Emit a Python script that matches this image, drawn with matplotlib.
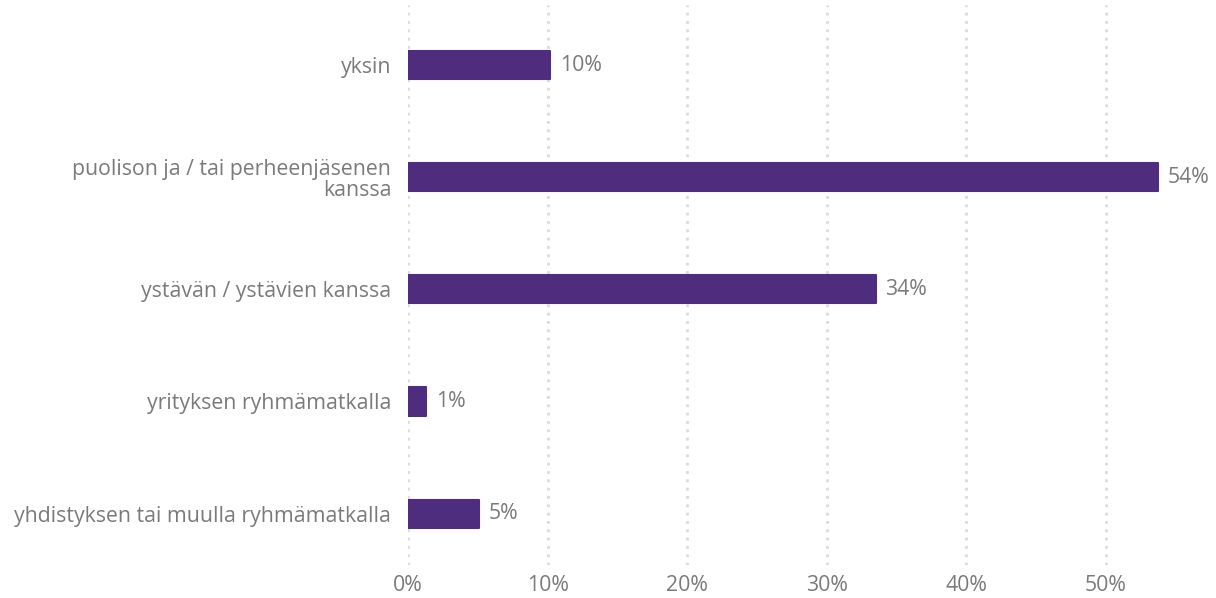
import matplotlib
matplotlib.use("Agg")
import matplotlib.pyplot as plt

plt.rcParams["font.family"] = ["Open Sans", "DejaVu Sans"]

categories = ["yksin", "puolison ja / tai perheenjäsenen\nkanssa", "ystävän / ystävien kanssa",
              "yrityksen ryhmämatkalla", "yhdistyksen tai muulla ryhmämatkalla"]
values = [10.2, 53.7, 33.5, 1.3, 5.1]
value_labels = ["10%", "54%", "34%", "1%", "5%"]
xticks = [0, 10, 20, 30, 40, 50]
xtick_labels = ["0%", "10%", "20%", "30%", "40%", "50%"]

bar_color = "#4e2d7f"
text_color = "#7a7a7a"
fs = 15.3

fig = plt.figure(figsize=(12.16, 5.98), dpi=100)
ax = fig.add_axes([0.3355, 0.055, 0.643, 0.937])

ypos = list(range(len(categories)))
ax.barh(ypos, values, height=0.25, color=bar_color, edgecolor=bar_color,
        linewidth=1.5, joinstyle="round", zorder=3)
for y, v, lab in zip(ypos, values, value_labels):
    ax.annotate(lab, (v, y), xytext=(7, 0), textcoords="offset points",
                va="center", ha="left", fontsize=fs, color=text_color)

ax.set_xlim(0, 56)
ax.set_ylim(4.46, -0.54)
ax.set_yticks(ypos)
ax.set_yticklabels(categories, fontsize=fs, color=text_color, linespacing=1.0)
ax.set_xticks(xticks)
ax.set_xticklabels(xtick_labels, fontsize=fs, color=text_color)
ax.tick_params(axis="y", length=0, pad=12)
ax.tick_params(axis="x", length=0, pad=7)
for s in ax.spines.values():
    s.set_visible(False)
for x in xticks:
    ax.axvline(x, color="#dadada", linewidth=2, linestyle=(0, (1.0, 2.0)), zorder=1)

fig.savefig("out.png", dpi=100)
